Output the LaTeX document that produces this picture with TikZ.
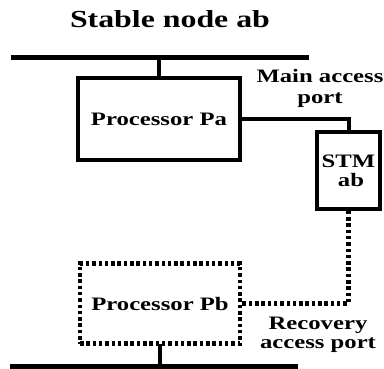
\documentclass[tikz,border=0pt]{standalone}
\usepackage{fontspec}
\setmainfont{Liberation Serif}[FakeStretch=1.3]
\begin{document}
\begin{tikzpicture}[x=1pt, y=-1pt, line join=miter, line cap=rect,
	font=\bfseries\fontsize{19}{21}\selectfont,
	bus/.style={line width=5pt},
	wire/.style={line width=4pt},
	dotwire/.style={line width=4.5pt, line cap=butt, dash pattern=on 3.5pt off 2.8pt},
	procbox/.style={draw, line width=3.5pt, inner sep=0pt},
	lostbox/.style={procbox, line width=4.5pt, line cap=butt, dash pattern=on 3.5pt off 2.8pt},
	portlabel/.style={align=center, inner sep=0pt}]
	\useasboundingbox (0,0) rectangle (384,368);
	% title and the two buses
	\node (title) at (170,19) {\fontsize{24.5}{26}\selectfont Stable node ab};
	\coordinate (topL) at (13,57); \coordinate (topR) at (306,57);
	\coordinate (botL) at (12,366); \coordinate (botR) at (295,366);
	\draw[bus] (topL)--(topR);
	\draw[bus] (botL)--(botR);
	% processors and the stable memory
	\node[procbox, minimum width=162pt, minimum height=82pt] (pa) at (159,119) {Processor Pa};
	\node[procbox, minimum width=63pt, minimum height=77pt, align=center] (stm) at (348.5,170.5) {STM\\[-2pt]\hspace*{5pt}ab};
	\node[lostbox, minimum width=160pt, minimum height=80pt] (pb) at (160,303.5) {Processor Pb};
	% access ports
	\draw[wire] (pa.north)--(pa.north |- topL);
	\draw[wire] (pa.east)-|(stm.north);
	\draw[dotwire] (stm.south)|-(pb.east);
	\draw[wire] (pb.south)--(pb.south |- botL);
	\node[portlabel] (mainport) at (320,88) {Main access\\port};
	\node[portlabel] (recport) at (318,335) {Recovery\\[-2pt]access port};
\end{tikzpicture}
\end{document}
